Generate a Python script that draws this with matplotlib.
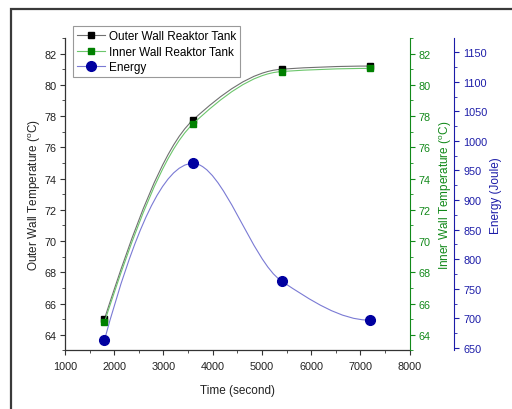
from matplotlib import pyplot as plt
from matplotlib.path import Path
from matplotlib.patches import PathPatch, Rectangle
from matplotlib.lines import Line2D
from matplotlib.ticker import MultipleLocator

plt.rcParams['font.family'] = ['Liberation Sans', 'DejaVu Sans']
plt.rcParams['mathtext.fontset'] = 'custom'
plt.rcParams['mathtext.rm'] = 'Liberation Sans'

time_s = [1800, 3600, 5400, 7200]
outer_temp = [65.0, 77.75, 81.0, 81.2]
inner_temp = [64.8, 77.5, 80.85, 81.05]
energy = [663, 962, 763, 697]

c_outer_line = '#707070'
c_inner_line = '#6cc66c'
c_green = '#12891a'
c_energy_line = '#7a7ad4'
c_blue = '#1c1ca8'
c_marker_blue = '#0000a0'


def smooth_path(xs, ys):
    # monotone cubic (Fritsch-Carlson style) tangents, drawn as Bezier segments
    n = len(xs)
    h = [xs[i + 1] - xs[i] for i in range(n - 1)]
    d = [(ys[i + 1] - ys[i]) / h[i] for i in range(n - 1)]
    m = [0.0] * n
    for i in range(1, n - 1):
        if d[i - 1] * d[i] > 0:
            w1 = 2 * h[i] + h[i - 1]
            w2 = h[i] + 2 * h[i - 1]
            m[i] = (w1 + w2) / (w1 / d[i - 1] + w2 / d[i])
    for end, (h0, h1, d0, d1) in ((0, (h[0], h[1], d[0], d[1])),
                                  (n - 1, (h[-1], h[-2], d[-1], d[-2]))):
        t = ((2 * h0 + h1) * d0 - h0 * d1) / (h0 + h1)
        if t * d0 <= 0:
            t = 0.0
        elif d0 * d1 <= 0 and abs(t) > 3 * abs(d0):
            t = 3 * d0
        m[end] = t
    verts = [(xs[0], ys[0])]
    codes = [Path.MOVETO]
    for i in range(n - 1):
        c1 = (xs[i] + h[i] / 3, ys[i] + m[i] * h[i] / 3)
        c2 = (xs[i + 1] - h[i] / 3, ys[i + 1] - m[i + 1] * h[i] / 3)
        verts += [c1, c2, (xs[i + 1], ys[i + 1])]
        codes += [Path.CURVE4] * 3
    return Path(verts, codes)


fig = plt.figure(figsize=(5.12, 4.10), dpi=100)
fig.patches.append(Rectangle((11 / 512, -0.1), 1.2, 1 - 10 / 410 + 0.1,
                             transform=fig.transFigure, fill=False,
                             edgecolor='#3a3a3a', linewidth=1.6))

ax = fig.add_axes([0.127, 0.143, 0.673, 0.762])
ax2 = ax.twinx()
ax3 = ax.twinx()

ax.add_patch(PathPatch(smooth_path(time_s, outer_temp), fill=False,
                       edgecolor=c_outer_line, linewidth=0.8))
ax2.add_patch(PathPatch(smooth_path(time_s, inner_temp), fill=False,
                        edgecolor=c_inner_line, linewidth=0.8))
ax3.add_patch(PathPatch(smooth_path(time_s, energy), fill=False,
                        edgecolor=c_energy_line, linewidth=0.8))

ax.plot(time_s, outer_temp, 's', color='black', markersize=5, linestyle='none')
ax2.plot(time_s, inner_temp, 's', color='#008000', markersize=5, linestyle='none')
ax3.plot(time_s, energy, 'o', color=c_marker_blue, markersize=7, linestyle='none')

ax.set_xlim(1000, 8000)
ax.set_ylim(63, 83)
ax2.set_ylim(63, 83)
ax3.set_ylim(646, 1174)

ax.xaxis.set_major_locator(MultipleLocator(1000))
ax.xaxis.set_minor_locator(MultipleLocator(500))
for a in (ax, ax2):
    a.yaxis.set_major_locator(MultipleLocator(2))
    a.yaxis.set_minor_locator(MultipleLocator(1))
ax3.yaxis.set_major_locator(MultipleLocator(50))
ax3.yaxis.set_minor_locator(MultipleLocator(25))

ax.spines['top'].set_visible(False)
ax.spines['right'].set_visible(False)
for s in ('left', 'top', 'bottom'):
    ax2.spines[s].set_visible(False)
    ax3.spines[s].set_visible(False)
ax3.spines['right'].set_position(('outward', 32))

for s in ('left', 'bottom'):
    ax.spines[s].set_color('#333333')
    ax.spines[s].set_linewidth(0.9)
ax2.spines['right'].set_color(c_green)
ax3.spines['right'].set_color(c_blue)

ax.tick_params(which='both', direction='out', colors='#333333', labelcolor='#222222',
               labelsize=7.8)
ax.tick_params(which='major', length=3.5, pad=2.5)
ax.tick_params(which='minor', length=2)
ax.tick_params(axis='x', pad=4.5)
ax2.tick_params(which='both', direction='out', colors=c_green, labelsize=7.8)
ax2.tick_params(which='major', length=3.5, pad=3)
ax2.tick_params(which='minor', length=2)
ax3.tick_params(which='both', direction='out', colors=c_blue, labelsize=7.8)
ax3.tick_params(which='major', length=3.5, pad=3)
ax3.tick_params(which='minor', length=2)

ax.set_xlabel('Time (second)', fontsize=8.5, color='#222222', labelpad=9)
ax.set_ylabel('Outer Wall Temperature ($^\\mathregular{o}$C)', fontsize=8.5,
              color='#222222', labelpad=1)
ax2.set_ylabel('Inner Wall Temperature ($^\\mathregular{o}$C)', fontsize=8.5,
               color=c_green, labelpad=4.5)
ax3.set_ylabel('Energy (Joule)', fontsize=8.5, color=c_blue, labelpad=2)

handles = [
    Line2D([], [], color=c_outer_line, lw=0.8, marker='s', markersize=5,
           markerfacecolor='black', markeredgecolor='black'),
    Line2D([], [], color=c_inner_line, lw=0.8, marker='s', markersize=5,
           markerfacecolor='#008000', markeredgecolor='#008000'),
    Line2D([], [], color=c_energy_line, lw=0.8, marker='o', markersize=7,
           markerfacecolor=c_marker_blue, markeredgecolor=c_marker_blue),
]
labels = ['Outer Wall Reaktor Tank', 'Inner Wall Reaktor Tank', 'Energy']
leg = ax3.legend(handles, labels, loc='upper left',
                 bbox_to_anchor=(73 / 512, 1 - 27 / 410),
                 bbox_transform=fig.transFigure, borderaxespad=0,
                 fancybox=False, edgecolor='#999999', framealpha=1,
                 fontsize=8.5, handlelength=2.4, handletextpad=0.3,
                 labelspacing=0.3, borderpad=0.35)
leg.get_frame().set_linewidth(0.8)

fig.savefig('out.png', dpi=100)
